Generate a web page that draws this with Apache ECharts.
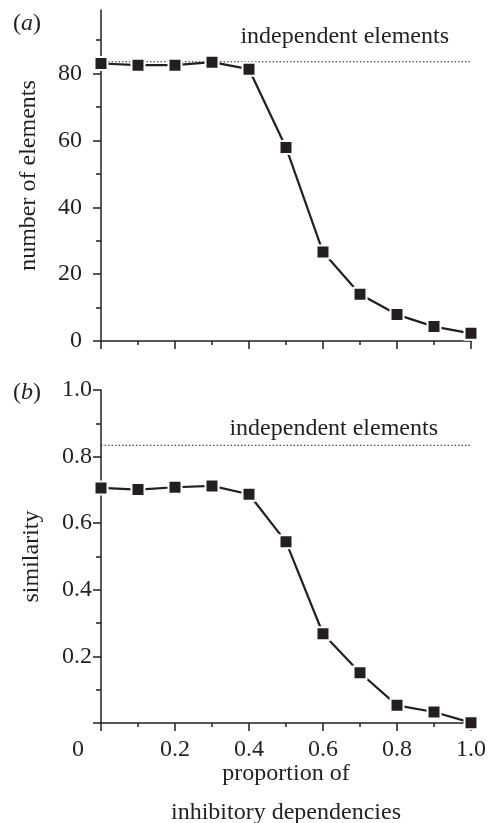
<!DOCTYPE html>
<html>
<head>
<meta charset="utf-8">
<script src="https://cdn.jsdelivr.net/npm/echarts@6/dist/echarts.min.js"></script>
<style>
  html, body { margin: 0; padding: 0; background: #fff; }
  #chart { width: 490px; height: 823px; }
</style>
</head>
<body>
<div id="chart"></div>
<script>
// data
const proportion = [0, 0.1, 0.2, 0.3, 0.4, 0.5, 0.6, 0.7, 0.8, 0.9, 1.0];
const numberOfElements = [83.0, 82.5, 82.5, 83.4, 81.3, 57.9, 26.6, 14.0, 7.9, 4.3, 2.3];
const similarity = [0.706, 0.701, 0.708, 0.712, 0.687, 0.544, 0.268, 0.151, 0.053, 0.033, 0.001];
const independentCount = 83.5;
const independentSimilarity = 0.834;
const countMajorTicks = [0, 20, 40, 60, 80];
const countMinorTicks = [10, 30, 50, 70, 90];
const xTickLabels = ['0', '0.2', '0.4', '0.6', '0.8', '1.0'];

const FONT = '"Liberation Serif", "DejaVu Serif", serif';
const INK = '#231f20';

const chart = echarts.init(document.getElementById('chart'), null, { renderer: 'canvas' });

const axisLine = { show: true, lineStyle: { color: INK, width: 1.5 } };
const majorTick = { show: true, inside: false, length: 8, lineStyle: { color: INK, width: 1.5 } };
const minorTick = { show: true, splitNumber: 2, length: 4, lineStyle: { color: INK, width: 1.5 } };
const labelFont = { color: INK, fontFamily: FONT, fontSize: 24 };

function pairs(ys) {
  return proportion.map((x, i) => [x, ys[i]]);
}

const markerSeries = (ys, xi, yi) => ({
  type: 'line',
  xAxisIndex: xi,
  yAxisIndex: yi,
  data: pairs(ys),
  symbol: 'rect',
  symbolSize: 13,
  lineStyle: { color: INK, width: 2.2 },
  itemStyle: { color: INK, borderColor: '#fff', borderWidth: 2 },
  z: 5,
  animation: false
});

const dottedSeries = (level, xi, yi) => ({
  type: 'line',
  xAxisIndex: xi,
  yAxisIndex: yi,
  data: [[proportion[0], level], [proportion[proportion.length - 1], level]],
  symbol: 'none',
  lineStyle: { color: INK, width: 1, type: [1.5, 2] },
  z: 2,
  animation: false
});

const option = {
  backgroundColor: '#fff',
  animation: false,
  grid: [
    { left: 101, right: 19, top: 10, height: 331, outerBoundsMode: 'none', containLabel: false },
    { left: 101, right: 19, top: 390, height: 333, outerBoundsMode: 'none', containLabel: false }
  ],
  xAxis: [
    {
      gridIndex: 0, type: 'value', min: 0, max: 1, interval: 0.2,
      axisLine: axisLine, axisTick: majorTick, minorTick: minorTick,
      axisLabel: { show: false }, splitLine: { show: false }
    },
    {
      gridIndex: 1, type: 'value', min: 0, max: 1, interval: 0.2,
      axisLine: axisLine, axisTick: majorTick, minorTick: minorTick,
      splitLine: { show: false },
      axisLabel: Object.assign({}, labelFont, {
        margin: 15,
        formatter: v => {
          const t = xTickLabels[Math.round(v / 0.2)];
          return v === 0 ? '{o|' + t + '}' : t;
        },
        rich: { o: Object.assign({}, labelFont, { padding: [0, 46, 0, 0] }) }
      }),
      name: 'proportion of\ninhibitory dependencies',
      nameLocation: 'middle',
      nameGap: 31,
      nameMoveOverlap: false,
      nameTextStyle: Object.assign({}, labelFont, { lineHeight: 39 })
    }
  ],
  yAxis: [
    {
      gridIndex: 0, type: 'value', min: 0, max: 99, position: 'left',
      axisLine: axisLine,
      axisTick: Object.assign({}, majorTick, { customValues: countMajorTicks }),
      axisLabel: Object.assign({}, labelFont, { margin: 19, customValues: countMajorTicks }),
      splitLine: { show: false },
      name: 'number of elements',
      nameLocation: 'middle',
      nameGap: 60,
      nameMoveOverlap: false,
      nameTextStyle: labelFont
    },
    {
      gridIndex: 0, type: 'value', min: 0, max: 99, position: 'left',
      axisLine: { show: false },
      axisTick: { show: true, length: 5, customValues: countMinorTicks, lineStyle: { color: INK, width: 1.5 } },
      axisLabel: { show: false },
      splitLine: { show: false }
    },
    {
      gridIndex: 1, type: 'value', min: 0, max: 1, interval: 0.2, position: 'left',
      axisLine: axisLine, axisTick: majorTick,
      minorTick: Object.assign({}, minorTick, { length: 5 }),
      splitLine: { show: false },
      axisLabel: Object.assign({}, labelFont, {
        margin: 9,
        formatter: v => (v === 0 ? '' : v.toFixed(1))
      }),
      name: 'similarity',
      nameLocation: 'middle',
      nameGap: 57,
      nameMoveOverlap: false,
      nameTextStyle: labelFont
    }
  ],
  series: [
    dottedSeries(independentCount, 0, 0),
    markerSeries(numberOfElements, 0, 0),
    dottedSeries(independentSimilarity, 1, 2),
    markerSeries(similarity, 1, 2)
  ],
  graphic: [
    {
      type: 'text', left: 13, top: 12,
      style: {
        text: '({i|a})', fill: INK, font: '24px ' + FONT,
        rich: { i: { fontStyle: 'italic', fontFamily: FONT, fontSize: 24, fill: INK } }
      }
    },
    {
      type: 'text', left: 13, top: 381,
      style: {
        text: '({i|b})', fill: INK, font: '24px ' + FONT,
        rich: { i: { fontStyle: 'italic', fontFamily: FONT, fontSize: 24, fill: INK } }
      }
    },
    {
      type: 'text', right: 41, top: 25,
      style: { text: 'independent elements', fill: INK, font: '24px ' + FONT }
    },
    {
      type: 'text', right: 52, top: 417,
      style: { text: 'independent elements', fill: INK, font: '24px ' + FONT }
    }
  ]
};

chart.setOption(option);
</script>
</body>
</html>
